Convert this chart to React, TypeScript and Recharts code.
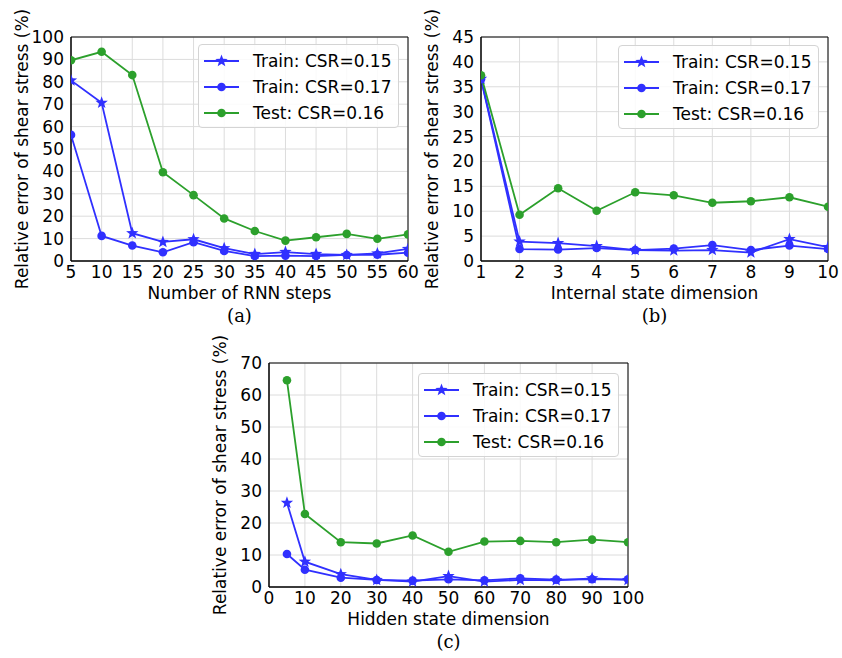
import React from "react";
import {
  LineChart,
  Line,
  XAxis,
  YAxis,
  CartesianGrid,
  ReferenceArea,
  Legend,
} from "recharts";

const FONT = "DejaVu Sans";
const FS = 17;
const BLUE = "#3030ff";
const GREEN = "#2ca02c";

// (a) number of RNN steps
const stepsX = [5, 10, 15, 20, 25, 30, 35, 40, 45, 50, 55, 60];
const stepsTrain15 = [80.6, 70.6, 12.4, 8.5, 9.7, 5.7, 3.1, 4.0, 3.1, 2.7, 3.4, 5.4];
const stepsTrain17 = [56.3, 11.2, 6.9, 3.9, 8.4, 4.5, 2.2, 2.4, 2.2, 2.7, 2.8, 3.7];
const stepsTest = [89.6, 93.4, 83.0, 39.6, 29.4, 19.0, 13.4, 9.1, 10.6, 12.1, 9.9, 11.9];
const stepsTicksX = [5, 10, 15, 20, 25, 30, 35, 40, 45, 50, 55, 60];
const stepsTicksY = [0, 10, 20, 30, 40, 50, 60, 70, 80, 90, 100];

// (b) internal state dimension
const internalX = [1, 2, 3, 4, 5, 6, 7, 8, 9, 10];
const internalTrain15 = [36.6, 3.9, 3.6, 3.0, 2.2, 2.1, 2.2, 1.7, 4.4, 2.8];
const internalTrain17 = [36.5, 2.4, 2.3, 2.6, 2.2, 2.5, 3.2, 2.2, 3.1, 2.4];
const internalTest = [37.3, 9.3, 14.6, 10.1, 13.8, 13.2, 11.7, 12.0, 12.8, 10.9];
const internalTicksX = [1, 2, 3, 4, 5, 6, 7, 8, 9, 10];
const internalTicksY = [0, 5, 10, 15, 20, 25, 30, 35, 40, 45];

// (c) hidden state dimension
const hiddenX = [5, 10, 20, 30, 40, 50, 60, 70, 80, 90, 100];
const hiddenTrain15 = [26.3, 7.9, 4.0, 2.2, 1.7, 3.4, 1.7, 2.2, 2.1, 2.7, 2.2];
const hiddenTrain17 = [10.3, 5.4, 2.9, 2.2, 2.0, 2.4, 2.1, 2.7, 2.3, 2.4, 2.4];
const hiddenTest = [64.6, 22.8, 14.0, 13.6, 16.1, 11.0, 14.2, 14.4, 14.0, 14.8, 14.0];
const hiddenTicksX = [0, 10, 20, 30, 40, 50, 60, 70, 80, 90, 100];
const hiddenTicksY = [0, 10, 20, 30, 40, 50, 60, 70];

const seriesNames = ["Train: CSR=0.15", "Train: CSR=0.17", "Test: CSR=0.16"];
const yLabel = "Relative error of shear stress (%)";

const toRows = (xs: number[], a: number[], b: number[], c: number[]) =>
  xs.map((x, i) => ({ x, t15: a[i], t17: b[i], test: c[i] }));

const starPoints = (cx: number, cy: number, ro: number, ri: number) => {
  const pts: string[] = [];
  for (let k = 0; k < 10; k++) {
    const r = k % 2 === 0 ? ro : ri;
    const ang = -Math.PI / 2 + (k * Math.PI) / 5;
    pts.push(`${cx + r * Math.cos(ang)},${cy + r * Math.sin(ang)}`);
  }
  return pts.join(" ");
};

const StarDot = (props: any) => {
  const { cx, cy, index } = props;
  if (cx == null || cy == null) return null;
  return <polygon key={`s${index}`} points={starPoints(cx, cy, 6.5, 2.7)} fill={BLUE} />;
};

const legendItems = [
  { name: seriesNames[0], color: BLUE, star: true },
  { name: seriesNames[1], color: BLUE, star: false },
  { name: seriesNames[2], color: GREEN, star: false },
];

const LegendBox = () => (
  <div
    style={{
      width: 201,
      height: 84,
      boxSizing: "border-box",
      border: "1px solid #d4d4d4",
      borderRadius: 4,
      background: "rgba(255,255,255,0.85)",
      paddingTop: 3,
      fontFamily: FONT,
      fontSize: FS,
      color: "#000",
      textAlign: "left",
    }}
  >
    {legendItems.map((it) => (
      <div key={it.name} style={{ display: "flex", alignItems: "center", height: 26 }}>
        <svg width={54} height={26} style={{ flexShrink: 0, display: "block" }}>
          <line x1={5} x2={40} y1={13} y2={13} stroke={it.color} strokeWidth={1.8} />
          {it.star ? (
            <polygon points={starPoints(22.5, 13, 6.5, 2.7)} fill={it.color} />
          ) : (
            <circle cx={22.5} cy={13} r={4.3} fill={it.color} />
          )}
        </svg>
        <span style={{ whiteSpace: "nowrap" }}>{it.name}</span>
      </div>
    ))}
  </div>
);

type PanelProps = {
  left: number;
  top: number;
  width: number;
  rightMargin: number;
  data: { x: number; t15: number; t17: number; test: number }[];
  xDomain: [number, number];
  xTicks: number[];
  yTicks: number[];
  xLabel: string;
  legendLeft: number;
  legendTop: number;
  caption: string;
};

const Panel = ({
  left,
  top,
  width,
  rightMargin,
  data,
  xDomain,
  xTicks,
  yTicks,
  xLabel,
  legendLeft,
  legendTop,
  caption,
}: PanelProps) => {
  const yMax = yTicks[yTicks.length - 1];
  const height = 305;
  const plotCenter = 71 + (width - 71 - rightMargin) / 2;
  return (
    <div style={{ position: "absolute", left, top, width, height: 330 }}>
      <LineChart
        width={width}
        height={height}
        data={data}
        margin={{ top: 37, right: rightMargin, bottom: 0, left: 0 }}
      >
        <CartesianGrid stroke="#dcdcdc" strokeWidth={1} />
        <XAxis
          dataKey="x"
          type="number"
          domain={xDomain}
          ticks={xTicks}
          interval={0}
          allowDataOverflow
          height={44}
          tickLine={false}
          tickSize={2}
          tickMargin={3}
          axisLine={{ stroke: "#000" }}
          tick={{ fill: "#000", fontSize: FS, fontFamily: FONT }}
          label={{
            value: xLabel,
            position: "insideBottom",
            offset: 6,
            style: { fill: "#000", fontSize: FS, fontFamily: FONT },
          }}
        />
        <YAxis
          type="number"
          domain={[0, yMax]}
          ticks={yTicks}
          interval={0}
          width={71}
          tickLine={false}
          tickSize={3}
          tickMargin={4}
          axisLine={{ stroke: "#000" }}
          tick={{ fill: "#000", fontSize: FS, fontFamily: FONT }}
          label={{
            value: yLabel,
            angle: -90,
            position: "center",
            dx: -14,
            style: { fill: "#000", fontSize: FS, fontFamily: FONT, textAnchor: "middle" },
          }}
        />
        <Line
          dataKey="t15"
          stroke={BLUE}
          strokeWidth={1.8}
          dot={StarDot}
          activeDot={false}
          isAnimationActive={false}
        />
        <Line
          dataKey="t17"
          stroke={BLUE}
          strokeWidth={1.8}
          dot={{ r: 4.3, fill: BLUE, stroke: "none" }}
          activeDot={false}
          isAnimationActive={false}
        />
        <Line
          dataKey="test"
          stroke={GREEN}
          strokeWidth={1.8}
          dot={{ r: 4.3, fill: GREEN, stroke: "none" }}
          activeDot={false}
          isAnimationActive={false}
        />
        <ReferenceArea
          x1={xDomain[0]}
          x2={xDomain[1]}
          y1={0}
          y2={yMax}
          fill="none"
          stroke="#000"
          strokeWidth={1}
          fillOpacity={0}
          ifOverflow="visible"
        />
        <Legend
          layout="horizontal"
          verticalAlign="middle"
          align="center"
          content={() => <LegendBox />}
          wrapperStyle={{ left: legendLeft, top: legendTop, width: 201, height: 84 }}
        />
      </LineChart>
      <div
        style={{
          position: "absolute",
          left: plotCenter - 30,
          width: 60,
          top: 305,
          textAlign: "center",
          fontFamily: "DejaVu Serif",
          fontSize: 18,
          lineHeight: "22px",
          color: "#000",
        }}
      >
        {caption}
      </div>
    </div>
  );
};

export default function App() {
  return (
    <div
      style={{
        position: "absolute",
        left: 0,
        top: 0,
        width: 842,
        height: 658,
        background: "#fff",
      }}
    >
      <Panel
        left={0}
        top={0}
        width={420}
        rightMargin={12}
        data={toRows(stepsX, stepsTrain15, stepsTrain17, stepsTest)}
        xDomain={[5, 60]}
        xTicks={stepsTicksX}
        yTicks={stepsTicksY}
        xLabel="Number of RNN steps"
        legendLeft={198}
        legendTop={44}
        caption="(a)"
      />
      <Panel
        left={410}
        top={0}
        width={430}
        rightMargin={12}
        data={toRows(internalX, internalTrain15, internalTrain17, internalTest)}
        xDomain={[1, 10]}
        xTicks={internalTicksX}
        yTicks={internalTicksY}
        xLabel="Internal state dimension"
        legendLeft={208}
        legendTop={45}
        caption="(b)"
      />
      <Panel
        left={198}
        top={326}
        width={452}
        rightMargin={22}
        data={toRows(hiddenX, hiddenTrain15, hiddenTrain17, hiddenTest)}
        xDomain={[0, 100]}
        xTicks={hiddenTicksX}
        yTicks={hiddenTicksY}
        xLabel="Hidden state dimension"
        legendLeft={220}
        legendTop={47}
        caption="(c)"
      />
    </div>
  );
}
